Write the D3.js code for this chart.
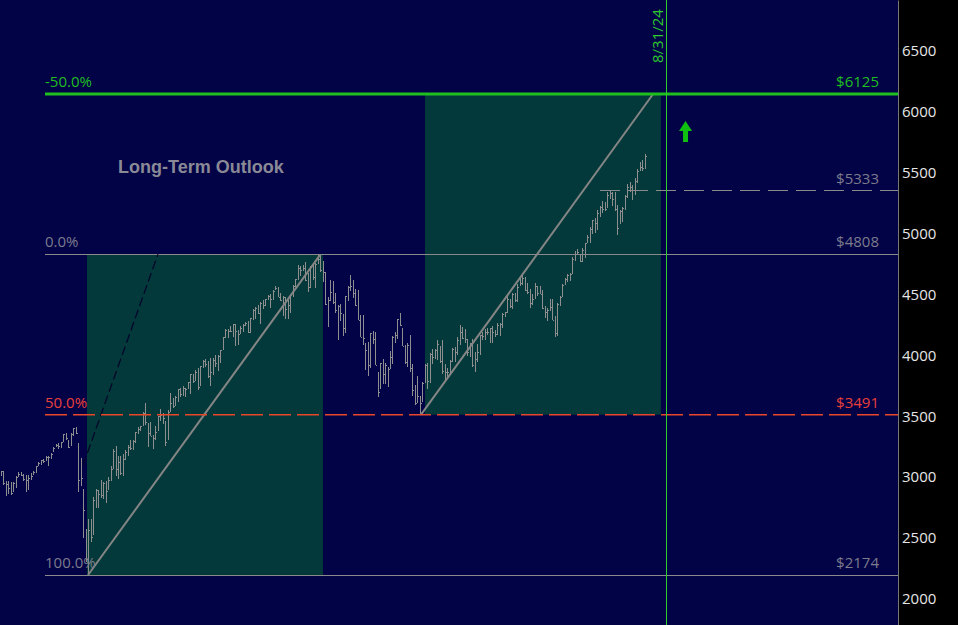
<!DOCTYPE html>
<html>
<head>
<meta charset="utf-8">
<script src="https://cdn.jsdelivr.net/npm/d3@7"></script>
<style>
  html, body { margin: 0; padding: 0; background: #000; }
  svg { display: block; }
</style>
</head>
<body>
<div id="chart"></div>
<script>
// ---------------- DATA ----------------
// Weekly bars (week starting Monday), from 2019-07-22 to 2024-07-01
const firstWeek = "2019-07-22";
const lastWeek = "2024-07-01";

const high = [
  // 2019
  3028,3027,2945,2943,2939,2940,2985,3021,3022,3002,2992,2993,3008,3027,3067,3098,3121,3127,3154,3150,3177,3226,3248,3259,
  // 2020
  3268,3330,3337,3285,3338,3385,3393,3259,3137,2882,2553,2637,2632,2818,2880,2868,2955,2934,2945,2980,3068,3211,3233,3155,3154,3165,
  3200,3240,3280,3279,3352,3388,3399,3509,3588,3425,3428,3322,3398,3482,3534,3502,3435,3529,3668,3628,3645,3702,3712,3726,3711,3760,
  // 2021
  3826,3824,3859,3870,3894,3937,3950,3929,3960,3960,3983,3978,4020,4130,4192,4194,4218,4238,4237,4187,4218,4234,4249,4257,4286,4356,
  4372,4393,4415,4429,4440,4470,4481,4513,4545,4536,4487,4465,4457,4429,4475,4559,4608,4719,4714,4718,4744,4652,4713,4731,4740,4802,
  // 2022
  4808,4749,4664,4454,4594,4588,4490,4393,4402,4321,4465,4546,4638,4593,4521,4513,4308,4308,4081,4090,4159,4177,4168,3838,3914,3946,
  3918,3880,4013,4140,4167,4280,4325,4203,4062,4076,4149,3906,3733,3807,3643,3762,3905,3918,4001,4028,4034,4100,4052,4101,3906,3878,
  // 2023
  3941,4038,4050,4128,4228,4209,4198,4114,4082,4112,4006,4072,4143,4166,4197,4203,4203,4219,4187,4245,4245,4323,4332,4481,4442,4491,
  4491,4562,4613,4634,4619,4575,4525,4483,4576,4549,4546,4512,4383,4364,4438,4438,4301,4410,4467,4566,4613,4644,4654,4790,4838,4853,
  // 2024
  4814,4858,4902,4963,5035,5090,5108,5171,5201,5250,5239,5321,5325,5323,5323,5210,5174,5199,5299,5385,5402,5375,5435,5507,5565,5583,5630
];
const low = [
  // 2019
  2988,2914,2822,2840,2834,2853,2891,2979,2985,2946,2855,2874,2952,2992,3014,3066,3075,3090,3111,3070,3125,3184,3223,3212,
  // 2020
  3214,3263,3281,3214,3233,3315,3328,2855,2901,2478,2280,2174,2447,2499,2728,2727,2810,2797,2766,2873,2948,3041,2984,2966,2999,2985,
  3115,3153,3200,3199,3260,3332,3354,3397,3402,3229,3313,3209,3280,3355,3441,3412,3233,3279,3511,3543,3558,3594,3633,3647,3636,3700,
  // 2021
  3663,3749,3765,3694,3725,3874,3885,3789,3723,3814,3886,3853,3917,4021,4123,4118,4171,4128,4056,4061,4154,4167,4220,4165,4164,4271,
  4280,4321,4233,4360,4385,4429,4367,4432,4513,4457,4428,4305,4278,4280,4329,4460,4538,4595,4631,4672,4585,4495,4532,4600,4531,4725,
  // 2022
  4662,4582,4395,4212,4422,4403,4327,4101,4259,4139,4162,4424,4506,4450,4381,4267,4125,4062,3859,3811,3876,4074,3900,3637,3705,3741,
  3743,3722,3863,3911,4080,4114,4218,4057,3907,3886,3838,3648,3571,3584,3491,3591,3752,3698,3751,3907,3945,3938,3918,3828,3765,3784,
  // 2023
  3837,3922,3920,3982,4064,4112,4080,3976,3961,3881,3842,3922,3984,4102,4105,4147,4082,4081,4131,4143,4136,4199,4290,4323,4370,4361,
  4420,4420,4549,4555,4509,4478,4370,4391,4438,4465,4482,4361,4283,4261,4345,4268,4125,4135,4384,4456,4556,4582,4591,4645,4757,4811,
  // 2024
  4742,4742,4774,4902,4905,4978,4980,5006,5117,5147,5164,5192,5263,5206,5167,4963,5061,5071,5174,5273,5317,5251,5294,5394,5489,5493,5505
];
const close = [
  // 2019
  3025,2932,2918,2889,2847,2926,2979,3007,2992,2961,2952,2970,2986,3023,3067,3093,3120,3110,3141,3146,3169,3221,3240,3235,
  // 2020
  3265,3330,3295,3226,3328,3380,3338,2954,2972,2711,2305,2541,2489,2790,2875,2837,2831,2930,2864,2955,3044,3194,3041,3098,3009,3130,
  3185,3225,3216,3271,3351,3373,3397,3508,3427,3341,3319,3298,3348,3477,3484,3465,3270,3510,3585,3558,3638,3699,3663,3709,3703,3756,
  // 2021
  3825,3768,3841,3714,3887,3934,3907,3811,3842,3943,3913,3975,4019,4129,4185,4180,4181,4233,4174,4156,4204,4230,4247,4166,4281,4352,
  4370,4327,4411,4395,4437,4468,4442,4509,4535,4459,4433,4455,4357,4391,4471,4545,4605,4697,4683,4698,4595,4538,4712,4620,4725,4766,
  // 2022
  4677,4663,4398,4432,4500,4419,4349,4385,4329,4204,4463,4543,4546,4488,4392,4272,4132,4123,4024,3901,4158,4109,3901,3675,3912,3825,
  3899,3863,3962,4130,4145,4280,4228,4058,3924,4067,3873,3693,3586,3640,3583,3753,3901,3771,3993,3965,4026,4072,3934,3852,3845,3840,
  // 2023
  3930,4034,4008,4104,4169,4123,4112,4003,4079,3896,3950,4004,4142,4138,4171,4166,4202,4169,4157,4225,4238,4315,4332,4443,4381,4483,
  4434,4540,4571,4617,4513,4499,4405,4441,4550,4492,4485,4365,4333,4354,4372,4269,4162,4403,4460,4559,4604,4640,4649,4770,4814,4830,
  // 2024
  4757,4843,4900,4951,5019,5087,5065,5149,5197,5184,5177,5294,5314,5264,5183,5027,5160,5188,5283,5363,5365,5338,5407,5491,5524,5520,5615
];

// Price axis ticks
const yTicks = [2000, 2500, 3000, 3500, 4000, 4500, 5000, 5500, 6000, 6500];

// Fibonacci-style levels
const levelPrices = [6125, 4808, 3491, 2174];
const levelPctLabels = ["-50.0%", "0.0%", "50.0%", "100.0%"];
const levelPriceLabels = ["$6125", "$4808", "$3491", "$2174"];
const levelKinds = ["target", "plain", "mid", "plain"];

const resistPrice = 5333;
const resistLabel = "$5333";
const resistStart = "2024-02-27";

// Time boxes (date span, price span)
const boxStarts = ["2020-03-20", "2022-10-24"];
const boxEnds   = ["2022-01-11", "2024-08-16"];
const boxLows   = [2174, 3491];
const boxHighs  = [4808, 6125];

// Trend lines (date, price) pairs
const trendStarts = [["2020-03-23", 2174], ["2022-10-13", 3491]];
const trendEnds   = [["2022-01-04", 4808], ["2024-07-25", 6125]];
const steepStart = ["2020-03-09", 3075];
const steepEnd   = ["2020-10-05", 4808];

const markerDate = "2024-08-31";
const markerLabel = "8/31/24";
const arrowAt = ["2024-10-24", 5903];
const titleText = "Long-Term Outlook";

// ---------------- LAYOUT ----------------
const W = 958, H = 625;
const plotRight = 898;
const levelLeft = 45;
const labelRight = 879;

const parse = d3.utcParse("%Y-%m-%d");
const weeks = d3.utcMonday.range(parse(firstWeek), d3.utcDay.offset(parse(lastWeek), 1));
const bars = weeks.map((d, i) => ({ date: d, h: high[i], l: low[i], c: close[i] }));

const x = d3.scaleUtc()
  .domain([parse("2019-07-20"), parse("2026-06-12")])
  .range([0, plotRight]);
const y = d3.scaleLinear().domain([1763, 6897]).range([H, 0]);

const C = {
  bg: "#020247",
  box: "#03393a",
  bar: "#8e8e8e",
  line: "#8a8a8a",
  label: "#7c7c8c",
  green: "#1fbf1f",
  greenV: "#2ecc2e",
  red: "#e8482a",
  redText: "#e8403a",
  axis: "#e6e6e6"
};
const font = "'Open Sans', 'DejaVu Sans', sans-serif";

const svg = d3.select("#chart").append("svg")
  .attr("width", W).attr("height", H)
  .attr("viewBox", `0 0 ${W} ${H}`);

svg.append("rect").attr("x", 0).attr("y", 0).attr("width", W).attr("height", H).attr("fill", "#000");
svg.append("rect").attr("x", 0).attr("y", 0).attr("width", plotRight).attr("height", H).attr("fill", C.bg);

// Time boxes
svg.append("g").selectAll("rect").data(boxStarts.map((s, i) => ({
  s: parse(s), e: parse(boxEnds[i]), lo: boxLows[i], hi: boxHighs[i]
}))).join("rect")
  .attr("x", d => x(d.s))
  .attr("width", d => x(d.e) - x(d.s))
  .attr("y", d => y(d.hi))
  .attr("height", d => y(d.lo) - y(d.hi))
  .attr("fill", C.box);

// Plain thin levels
const levels = levelPrices.map((p, i) => ({ p, pct: levelPctLabels[i], lab: levelPriceLabels[i], kind: levelKinds[i] }));
svg.append("g").selectAll("line").data(levels.filter(d => d.kind === "plain")).join("line")
  .attr("x1", levelLeft).attr("x2", plotRight)
  .attr("y1", d => Math.round(y(d.p)) + 0.5).attr("y2", d => Math.round(y(d.p)) + 0.5)
  .attr("stroke", C.line).attr("stroke-width", 1);

// Steep dashed trend line (dark)
svg.append("line")
  .attr("x1", x(parse(steepStart[0]))).attr("y1", y(steepStart[1]))
  .attr("x2", x(parse(steepEnd[0]))).attr("y2", y(steepEnd[1]))
  .attr("stroke", "#04062a").attr("stroke-width", 1.3)
  .attr("stroke-dasharray", "9,4");

// OHLC-style weekly bars
const gBars = svg.append("g").attr("stroke", C.bar).attr("stroke-width", 1).attr("shape-rendering", "crispEdges");
bars.forEach(b => {
  const bx = Math.round(x(b.date)) + 0.5;
  gBars.append("line").attr("x1", bx).attr("x2", bx).attr("y1", y(b.h)).attr("y2", y(b.l));
  gBars.append("line").attr("x1", bx).attr("x2", bx + 1.5).attr("y1", Math.round(y(b.c)) + 0.5).attr("y2", Math.round(y(b.c)) + 0.5);
});

// Trend lines
svg.append("g").selectAll("line").data(trendStarts.map((s, i) => ({ s, e: trendEnds[i] }))).join("line")
  .attr("x1", d => x(parse(d.s[0]))).attr("y1", d => y(d.s[1]))
  .attr("x2", d => x(parse(d.e[0]))).attr("y2", d => y(d.e[1]))
  .attr("stroke", "#858585").attr("stroke-width", 2);

// Mid (50%) red dashed level
const mid = levels.find(d => d.kind === "mid");
svg.append("line")
  .attr("x1", levelLeft).attr("x2", plotRight)
  .attr("y1", y(mid.p)).attr("y2", y(mid.p))
  .attr("stroke", C.red).attr("stroke-width", 1.5)
  .attr("stroke-dasharray", "22,6");

// Resistance dashed line
svg.append("line")
  .attr("x1", x(parse(resistStart))).attr("x2", plotRight)
  .attr("y1", Math.round(y(resistPrice)) + 0.5).attr("y2", Math.round(y(resistPrice)) + 0.5)
  .attr("stroke", C.line).attr("stroke-width", 1)
  .attr("stroke-dasharray", "20,8");

// Target level (thick green)
const target = levels.find(d => d.kind === "target");
svg.append("line")
  .attr("x1", levelLeft).attr("x2", plotRight)
  .attr("y1", y(target.p)).attr("y2", y(target.p))
  .attr("stroke", C.green).attr("stroke-width", 3);

// Vertical date marker
const mx = Math.round(x(parse(markerDate))) + 0.5;
svg.append("line").attr("x1", mx).attr("x2", mx).attr("y1", 0).attr("y2", H)
  .attr("stroke", C.greenV).attr("stroke-width", 1);
svg.append("text")
  .attr("transform", `translate(${mx - 4},63) rotate(-90)`)
  .attr("font-family", font).attr("font-size", 15).attr("fill", C.greenV)
  .text(markerLabel);

// Up arrow
const ax = x(parse(arrowAt[0])), ay = y(arrowAt[1]);
svg.append("path")
  .attr("d", `M${ax},${ay} L${ax + 6.5},${ay + 10} L${ax + 2.5},${ay + 10} L${ax + 2.5},${ay + 21} L${ax - 2.5},${ay + 21} L${ax - 2.5},${ay + 10} L${ax - 6.5},${ay + 10} Z`)
  .attr("fill", "#10c010");

// Level labels
const colorFor = k => k === "target" ? C.green : k === "mid" ? C.redText : C.label;
const gLab = svg.append("g").attr("font-family", font).attr("font-size", 15);
gLab.selectAll("text.pct").data(levels).join("text").attr("class", "pct")
  .attr("x", levelLeft).attr("y", d => y(d.p) - 7)
  .attr("fill", d => colorFor(d.kind)).text(d => d.pct);
gLab.selectAll("text.usd").data(levels).join("text").attr("class", "usd")
  .attr("x", labelRight).attr("y", d => y(d.p) - 7).attr("text-anchor", "end")
  .attr("fill", d => colorFor(d.kind)).text(d => d.lab);
gLab.append("text").attr("x", labelRight).attr("y", y(resistPrice) - 6).attr("text-anchor", "end")
  .attr("fill", C.label).text(resistLabel);

// Title
svg.append("text").attr("x", 118).attr("y", 173)
  .attr("font-family", "'Liberation Sans', Arial, sans-serif").attr("font-weight", "bold")
  .attr("font-size", 18).attr("fill", "#8a8a96").text(titleText);

// Right price axis
const axis = d3.axisRight(y).tickValues(yTicks).tickSize(0).tickPadding(4).tickFormat(d3.format("d"));
const gAxis = svg.append("g").attr("transform", `translate(${plotRight},0)`).call(axis);
gAxis.select(".domain").attr("stroke", "#777").attr("stroke-width", 1);
gAxis.selectAll("text").attr("font-family", font).attr("font-size", 15).attr("fill", C.axis).attr("dy", "0.5em");
</script>
</body>
</html>
